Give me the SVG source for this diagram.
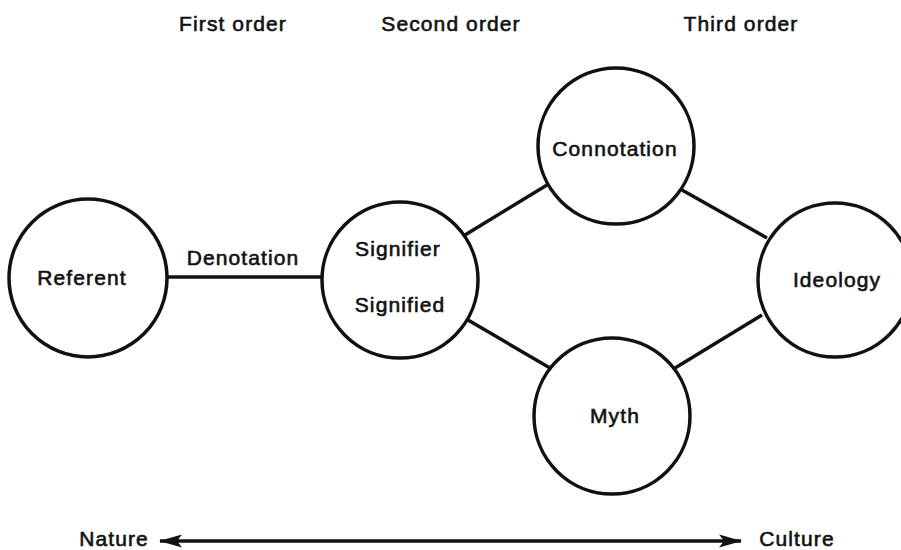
<svg xmlns="http://www.w3.org/2000/svg" width="901" height="550" viewBox="0 0 901 550">
<style>
.node{fill:#fff;stroke:#111;stroke-width:3.5}
.lbl{font-family:"Liberation Sans",Arial,sans-serif;font-size:21px;fill:#111;stroke:#111;stroke-width:0.6;text-anchor:middle;letter-spacing:1.1px}
.edge{stroke:#111;stroke-width:3.5;fill:none}
</style>
<defs>
<marker id="ah" markerUnits="userSpaceOnUse" markerWidth="24" markerHeight="16" refX="22" refY="8" orient="auto-start-reverse">
<path d="M0,1.5 L23,8 L0,14.5 L5,8 Z" fill="#111"/>
</marker>
</defs>
<rect width="901" height="550" fill="#fff"/>
<g id="headers">
<text class="lbl" x="233" y="31">First order</text>
<text class="lbl" x="451" y="31">Second order</text>
<text class="lbl" x="741" y="31">Third order</text>
</g>
<g id="connectors">
<line class="edge" x1="167" y1="277" x2="322" y2="277"/>
<line class="edge" x1="465" y1="235" x2="547" y2="185"/>
<line class="edge" x1="682" y1="190" x2="767" y2="238"/>
<line class="edge" x1="468" y1="320" x2="550" y2="368"/>
<line class="edge" x1="675" y1="368" x2="762" y2="315"/>
<line class="edge" x1="160" y1="541" x2="741" y2="541" stroke-width="3" marker-start="url(#ah)" marker-end="url(#ah)"/>
<text class="lbl" x="243" y="265">Denotation</text>
</g>
<g id="referent">
<circle class="node" cx="88" cy="278" r="79"/>
<text class="lbl" x="82" y="285">Referent</text>
</g>
<g id="signifier">
<circle class="node" cx="400" cy="280" r="78"/>
<text class="lbl" x="398" y="256">Signifier</text>
<text class="lbl" x="400" y="312">Signified</text>
</g>
<g id="connotation">
<circle class="node" cx="616" cy="146" r="78"/>
<text class="lbl" x="615" y="156">Connotation</text>
</g>
<g id="myth">
<circle class="node" cx="612" cy="416" r="78"/>
<text class="lbl" x="615" y="423">Myth</text>
</g>
<g id="ideology">
<circle class="node" cx="835" cy="280" r="77"/>
<text class="lbl" x="837" y="287">Ideology</text>
</g>
<g id="axis">
<text class="lbl" x="114" y="546">Nature</text>
<text class="lbl" x="797" y="546">Culture</text>
</g>
</svg>
